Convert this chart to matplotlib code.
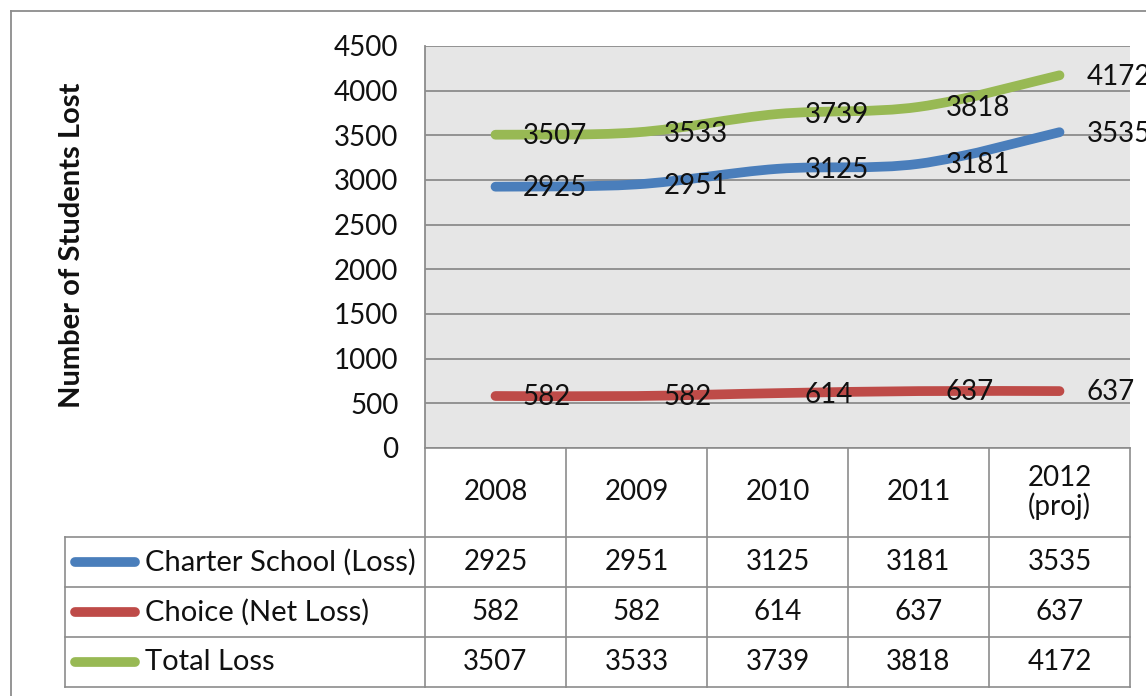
import matplotlib
matplotlib.use('Agg')
import matplotlib.pyplot as plt
import matplotlib.transforms as mtransforms
from matplotlib.path import Path
from matplotlib.patches import PathPatch
from matplotlib.lines import Line2D
import numpy as np

# ---------------- data ----------------
years = ['2008', '2009', '2010', '2011', '2012\n(proj)']
series_names = ['Charter School (Loss)', 'Choice (Net Loss)', 'Total Loss']
charter = [2925, 2951, 3125, 3181, 3535]
choice = [582, 582, 614, 637, 637]
total = [3507, 3533, 3739, 3818, 4172]
y_ticks = [0, 500, 1000, 1500, 2000, 2500, 3000, 3500, 4000, 4500]
y_title = 'Number of Students Lost'
colors = ['#4A7EBB', '#BE4B48', '#98B954']

series = [charter, choice, total]

# ---------------- figure ----------------
W, H = 1146, 696
plt.rcParams['font.family'] = ['Lato', 'DejaVu Sans']
FS = 20
GRID = '#8C8C8C'
TXT = '#111111'
fig = plt.figure(figsize=(W / 100, H / 100), dpi=100)
pix = mtransforms.Affine2D().scale(1, -1).translate(0, H)  # top-left pixel coords

ax = fig.add_axes([425 / W, (H - 448) / H, 705 / W, 402 / H])
ax.set_facecolor('#E6E6E6')
ax.set_xlim(-0.5, len(years) - 0.5)
ax.set_ylim(0, 4500)
ax.set_yticks(y_ticks)
ax.set_yticklabels([str(t) for t in y_ticks])
ax.set_xticks([])
ax.grid(axis='y', color=GRID, lw=1.3)
ax.set_axisbelow(True)
for s in ['top', 'right', 'bottom']:
    ax.spines[s].set_visible(False)
ax.spines['left'].set_color(GRID)
ax.spines['left'].set_linewidth(1.3)
ax.tick_params(axis='y', length=0, pad=19, labelsize=FS, labelcolor=TXT)


def smooth_path(xs, ys):
    pts = np.column_stack([xs, ys]).astype(float)
    n = len(pts)
    verts = [pts[0]]
    codes = [Path.MOVETO]
    for i in range(n - 1):
        p0 = pts[i - 1] if i > 0 else pts[i]
        p1 = pts[i]
        p2 = pts[i + 1]
        p3 = pts[i + 2] if i + 2 < n else pts[i + 1]
        c1 = p1 + (p2 - p0) / 6.0
        c2 = p2 - (p3 - p1) / 6.0
        verts += [c1, c2, p2]
        codes += [Path.CURVE4] * 3
    return Path(verts, codes)


xs = np.arange(len(years))
for vals, col in zip(series, colors):
    patch = PathPatch(smooth_path(xs, vals), facecolor='none', edgecolor=col,
                      lw=7, capstyle='round', joinstyle='round', zorder=3)
    ax.add_patch(patch)
for vals in series:
    for x, v in zip(xs, vals):
        ax.annotate(str(v), (x, v), xytext=(19.5, -1), textcoords='offset points',
                    ha='left', va='center', fontsize=FS, color=TXT, zorder=5,
                    annotation_clip=False)

# y-axis title
fig.text(72, 245, y_title, transform=pix, rotation=90, ha='center', va='center',
         fontsize=21, fontweight='bold', color=TXT)

# ---------------- data table ----------------
edges_pix = [ax.transData.transform((e, 0))[0] for e in np.arange(len(years) + 1) - 0.5]
centers_pix = [ax.transData.transform((c, 0))[0] for c in xs]
x_left_pix = 65
header_top, header_bot = 448, 537
row_lines = [537, 587, 637, 687]

def hline(x0, x1, y):
    fig.add_artist(Line2D([x0, x1], [y, y], transform=pix, color=GRID, lw=1.2))

def vline(x, y0, y1):
    fig.add_artist(Line2D([x, x], [y0, y1], transform=pix, color=GRID, lw=1.2))

hline(edges_pix[0], edges_pix[-1], header_top)
for y in row_lines:
    hline(x_left_pix, edges_pix[-1], y)
for e in edges_pix:
    vline(e, header_top, row_lines[-1])
vline(x_left_pix, row_lines[0], row_lines[-1])

hdr_y = (header_top + header_bot) / 2
for cx, yr in zip(centers_pix, years):
    fig.text(cx, hdr_y, yr, transform=pix, ha='center', va='center', fontsize=FS,
             color=TXT, linespacing=1.1)

for r, (name, vals, col) in enumerate(zip(series_names, series, colors)):
    ry = (row_lines[r] + row_lines[r + 1]) / 2
    fig.add_artist(Line2D([75, 135], [ry, ry], transform=pix, color=col, lw=7,
                          solid_capstyle='round'))
    fig.text(145, ry, name, transform=pix, ha='left', va='center', fontsize=21,
             color=TXT)
    for cx, v in zip(centers_pix, vals):
        fig.text(cx, ry, str(v), transform=pix, ha='center', va='center', fontsize=FS,
                 color=TXT)

# outer chart border (extends past the right and bottom edges)
fig.add_artist(Line2D([10.5, 10.5], [10.5, H + 5], transform=pix, color=GRID, lw=1.3))
fig.add_artist(Line2D([10.5, W + 5], [10.5, 10.5], transform=pix, color=GRID, lw=1.3))

fig.savefig('out.png', dpi=100, facecolor='white')
